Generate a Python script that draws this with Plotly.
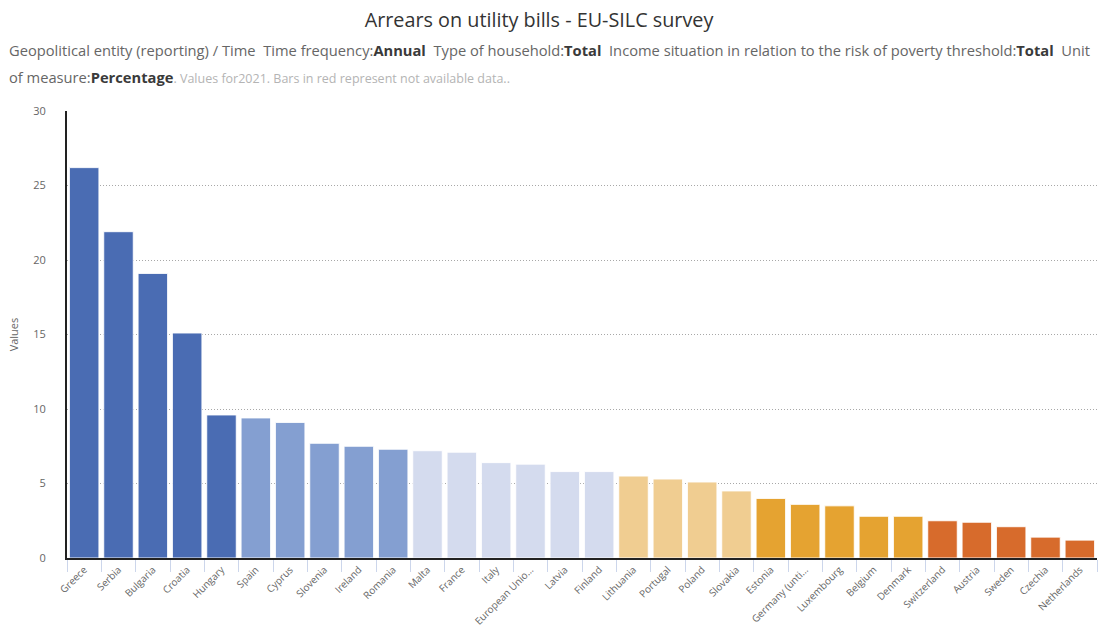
import plotly.graph_objects as go

countries = ["Greece", "Serbia", "Bulgaria", "Croatia", "Hungary", "Spain", "Cyprus",
             "Slovenia", "Ireland", "Romania", "Malta", "France", "Italy",
             "European Unio…", "Latvia", "Finland", "Lithuania", "Portugal", "Poland",
             "Slovakia", "Estonia", "Germany (unti…", "Luxembourg", "Belgium", "Denmark",
             "Switzerland", "Austria", "Sweden", "Czechia", "Netherlands"]
values = [26.2, 21.9, 19.1, 15.1, 9.6, 9.4, 9.1, 7.7, 7.5, 7.3, 7.2, 7.1, 6.4,
          6.3, 5.8, 5.8, 5.5, 5.3, 5.1, 4.5, 4.0, 3.6, 3.5, 2.8, 2.8,
          2.5, 2.4, 2.1, 1.4, 1.2]
# colour class of each bar (0..5)
classes = [0, 0, 0, 0, 0, 1, 1, 1, 1, 1, 2, 2, 2, 2, 2, 2, 3, 3, 3, 3,
           4, 4, 4, 4, 4, 5, 5, 5, 5, 5]
palette = ["#4a6cb3", "#849fd1", "#d4dbee", "#f0cd91", "#e5a331", "#d76b2c"]

colors = [palette[c] for c in classes]

fig = go.Figure(go.Bar(
    x=countries, y=values,
    marker=dict(color=colors, line=dict(color="rgba(255,255,255,0.9)", width=1)),
))

font = "Open Sans, DejaVu Sans, sans-serif"
B = "<span style='color:#3a3a3a'><b>{}</b></span>"

fig.update_layout(
    width=1107, height=628,
    margin=dict(l=67, r=10, t=111, b=70),
    paper_bgcolor="white", plot_bgcolor="white",
    bargap=0.14,
    showlegend=False,
    font=dict(family=font, color="#666666"),
    title=dict(text="Arrears on utility bills - EU-SILC survey", x=539 / 1107, xanchor="center",
               y=1 - 20 / 628, yanchor="middle",
               font=dict(size=19.8, color="#333333", family=font)),
    annotations=[
        dict(text="Geopolitical entity (reporting) / Time  Time frequency:" + B.format("Annual") + "  "
                  "Type of household:" + B.format("Total") + "  Income situation in relation to the risk "
                  "of poverty threshold:" + B.format("Total") + "  Unit",
             xref="paper", yref="paper", x=-60 / 1030, y=1 + (111 - 50) / 447,
             xanchor="left", yanchor="middle", showarrow=False,
             font=dict(size=14.7, color="#666666", family=font)),
        dict(text="of measure:" + B.format("Percentage") + "<span style='font-size:12.5px;color:#b4b4b4'>. "
                  "Values for2021. Bars in red represent not available data..</span>",
             xref="paper", yref="paper", x=-60 / 1030, y=1 + (111 - 77) / 447,
             xanchor="left", yanchor="middle", showarrow=False,
             font=dict(size=14.7, color="#666666", family=font)),
    ],
    xaxis=dict(
        type="category",
        tickangle=-45,
        tickfont=dict(size=10, color="#666666"),
        ticks="outside", tickson="boundaries", ticklen=12, tickcolor="#ccd6eb", tickwidth=1,
        showline=True, linecolor="#222222", linewidth=2,
        showgrid=False,
        layer="below traces",
        automargin=False,
    ),
    yaxis=dict(
        range=[0, 30], dtick=5,
        tickfont=dict(size=11, color="#666666"),
        title=dict(text="Values", font=dict(size=11, color="#666666"), standoff=12),
        showgrid=True, gridcolor="#a8a8a8", griddash="1px,2px", gridwidth=1,
        showline=True, linecolor="#222222", linewidth=2,
        zeroline=False,
        layer="below traces",
        automargin=False,
        ticklabelstandoff=17,
    ),
)

fig.write_html("out.html")
